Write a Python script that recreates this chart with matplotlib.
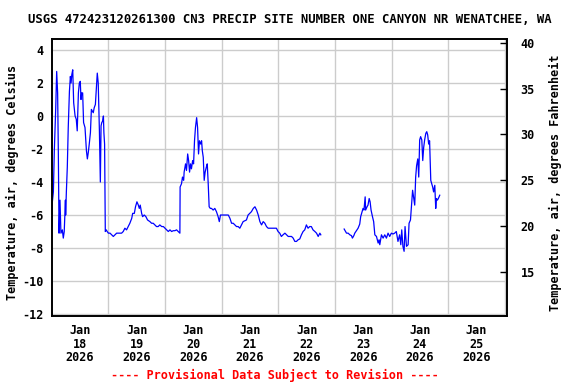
import numpy as np
import matplotlib
matplotlib.use("Agg")
import matplotlib.pyplot as plt

# hours since Jan 18 2026 00:00, air temperature in deg C
hours = [0.0, 0.2, 0.7, 1.1, 1.7, 2.1, 2.5, 2.8, 3.1, 3.5, 3.9, 4.5, 4.9, 5.3, 5.8, 5.9,
         6.2, 6.6, 7.0, 7.5, 7.9, 8.2, 8.5, 8.9, 9.3, 9.9, 10.4, 10.8, 11.3, 11.7, 12.1,
         12.4, 12.7, 13.1, 13.5, 14.1, 14.7, 15.1, 15.5, 15.9, 16.4, 16.8, 17.2, 17.6,
         18.0, 18.5, 18.9, 19.3, 19.7, 20.2, 20.4, 20.6, 20.9, 21.2, 21.6, 21.9, 22.1,
         22.4, 22.7, 23.1, 23.5, 24.0, 24.7, 25.4, 26.1, 26.8, 27.5, 28.2, 29.6, 30.3,
         31.0, 31.7, 32.4, 33.1, 33.9, 34.3, 35.0, 35.5, 36.1, 36.7, 37.1, 37.5, 38.1,
         38.5, 39.2, 39.9, 40.6, 41.6, 42.3, 43.0, 43.7, 44.4, 45.1, 45.8, 46.6, 47.3,
         48.0, 48.7, 49.4, 50.1, 50.8, 51.5, 52.2, 52.9, 53.6, 54.3, 54.4, 55.0, 55.4,
         55.9, 56.1, 56.7, 57.1, 57.6, 58.0, 58.4, 58.8, 59.2, 59.7, 60.1, 60.5, 60.9,
         61.4, 61.8, 62.2, 62.6, 63.1, 63.5, 63.8, 64.2, 64.6, 65.0, 65.5, 65.9, 66.3,
         66.7, 67.2, 67.7, 68.4, 69.1, 69.8, 70.5, 71.0, 71.5, 72.7, 74.1, 74.8, 75.5,
         76.2, 76.9, 77.6, 78.3, 79.0, 79.7, 80.4, 81.1, 82.5, 83.2, 83.9, 84.6, 85.4,
         86.1, 86.8, 87.5, 88.2, 88.9, 89.6, 90.3, 91.0, 91.7, 92.4, 93.8, 95.2, 95.9,
         96.6, 97.3, 98.0, 98.8, 99.5, 100.2, 100.9, 101.6, 102.3, 103.0, 103.7, 104.4,
         105.1, 105.8, 106.5, 107.2, 107.9, 108.6, 109.3, 110.0, 110.7, 111.5, 112.2,
         112.9, 113.6, 114.0, 119.0,
         123.9, 124.9, 125.6, 126.3, 127.0, 127.4, 128.0, 128.4, 129.1, 129.8, 130.5,
         130.9, 131.3, 131.9, 132.3, 132.8, 133.0, 133.6, 134.0, 134.5, 134.9, 135.3,
         135.9, 136.4, 136.9, 137.6, 138.3, 138.7, 139.0, 139.7, 140.4, 141.1, 141.8,
         142.5, 143.2, 143.9, 144.6, 145.3, 146.0, 146.7, 147.4, 147.9, 148.3, 148.8,
         149.3, 149.7, 150.3, 151.0, 151.4, 152.0, 152.5, 152.9, 153.4, 153.8, 154.2,
         154.6, 155.1, 155.5, 155.9, 156.3, 156.8, 157.2, 157.6, 158.0, 158.5, 158.9,
         159.3, 159.7, 160.1, 160.6, 161.0, 161.4, 161.8, 162.3, 162.7, 163.0, 163.4,
         163.8, 164.4]
temp_c = [-6.7, -5.3, -4.6, -2.1, 0.5, 2.7, 1.4, -2.2, -7.1, -5.1, -7.1, -6.9, -7.4, -7.0, -5.1, -6.0,
          -4.6, -3.1, -0.7, 1.5, 2.4, 2.0, 2.5, 2.8, 0.8, 0.0, -0.2, -0.9, 1.4, 2.0, 2.1,
          1.0, 1.4, 1.4, -0.4, -0.7, -2.1, -2.6, -2.2, -1.7, -1.0, 0.4, 0.3, 0.2,
          0.5, 0.7, 1.6, 2.6, 2.0, -0.9, -2.5, -4.0, -0.6, -0.4, -0.3, 0.0, -1.0,
          -1.7, -7.0, -6.9, -7.0, -7.1, -7.1, -7.2, -7.3, -7.2, -7.1, -7.1, -7.1, -7.0,
          -6.8, -6.9, -6.7, -6.5, -6.2, -5.9, -5.9, -5.5, -5.2, -5.4, -5.6, -5.4, -5.9,
          -6.1, -6.0, -6.1, -6.3, -6.4, -6.5, -6.5, -6.6, -6.7, -6.7, -6.6, -6.7, -6.7,
          -6.8, -6.9, -7.0, -6.9, -7.0, -6.95, -6.95, -6.9, -7.0, -7.1, -4.3, -4.1, -3.7,
          -3.9, -3.4, -2.9, -3.3, -2.3, -2.7, -3.4, -2.9, -3.2, -2.7, -2.9, -1.5, -0.7,
          -0.1, -0.7, -2.3, -1.5, -1.7, -1.5, -2.1, -2.5, -3.9, -3.4, -3.1, -2.9, -4.1,
          -5.5, -5.6, -5.6, -5.7, -5.6, -5.8, -6.1, -6.4, -6.0, -6.0, -6.0, -6.0, -6.2,
          -6.5, -6.5, -6.6, -6.7, -6.7, -6.8, -6.6, -6.4, -6.3, -6.0, -5.9, -5.8, -5.6,
          -5.5, -5.7, -6.0, -6.4, -6.6, -6.4, -6.5, -6.7, -6.8, -6.8, -6.8, -6.8, -7.0,
          -7.1, -7.3, -7.2, -7.1, -7.2, -7.3, -7.3, -7.3, -7.4, -7.6, -7.6, -7.5,
          -7.45, -7.2, -7.0, -6.9, -6.6, -6.8, -6.7, -6.7, -6.9, -7.0, -7.1,
          -7.3, -7.1, -7.2, np.nan,
          -6.85, -7.1, -7.1, -7.2, -7.25, -7.4, -7.25, -7.1, -6.95, -6.8, -6.55,
          -6.1, -5.9, -5.6, -5.7, -4.9, -5.7, -5.5, -5.4, -5.0, -5.2, -5.7,
          -6.1, -6.4, -7.2, -7.3, -7.7, -7.5, -7.8, -7.2, -7.4, -7.2, -7.4,
          -7.1, -7.3, -7.1, -7.15, -7.1, -7.0, -7.6, -7.2, -7.8, -6.9, -7.9,
          -8.2, -6.7, -7.9, -7.8, -6.5, -6.3, -5.3, -4.5, -5.0, -5.4, -3.7,
          -3.0, -2.6, -3.7, -1.45, -1.25, -1.45, -2.7, -1.9, -1.45, -1.05, -0.95,
          -1.15, -1.7, -1.5, -3.9, -4.1, -4.3, -4.6, -4.2, -5.6, -5.0, -5.1,
          -5.0, -4.8]

day_labels = ["Jan\n18\n2026", "Jan\n19\n2026", "Jan\n20\n2026", "Jan\n21\n2026",
              "Jan\n22\n2026", "Jan\n23\n2026", "Jan\n24\n2026", "Jan\n25\n2026"]
c_ticks = [-12, -10, -8, -6, -4, -2, 0, 2, 4]
f_ticks = [15, 20, 25, 30, 35, 40]

title = "USGS 472423120261300 CN3 PRECIP SITE NUMBER ONE CANYON NR WENATCHEE, WA"
mono = "DejaVu Sans Mono"
fs = 8.5

fig = plt.figure(figsize=(5.76, 3.84), dpi=100)
ax = fig.add_axes([0.0898, 0.1771, 0.7896, 0.7206])

ax.plot(hours, temp_c, color="#0000FF", lw=0.9)

c_lo, c_hi = -12.12, 4.65
ax.set_xlim(0, 192.7)
ax.set_ylim(c_lo, c_hi)

# labels at noon, grid lines at midnight
ax.set_xticks([12 + 24 * i for i in range(len(day_labels))])
ax.set_xticklabels(day_labels, fontfamily=mono, fontweight="bold", fontsize=fs,
                   linespacing=1.05)
ax.set_xticks([24 * i for i in range(1, 9)], minor=True)
ax.tick_params(axis="x", which="both", length=0, pad=6)
ax.grid(True, which="minor", axis="x", color="#cccccc", lw=1)

ax.set_yticks(c_ticks)
ax.set_yticklabels([str(v) for v in c_ticks], fontfamily=mono, fontweight="bold", fontsize=fs)
ax.tick_params(axis="y", length=0, pad=6)
ax.grid(True, which="major", axis="y", color="#cccccc", lw=1)

for s in ax.spines.values():
    s.set_linewidth(1.2)

ax2 = ax.twinx()
ax2.set_ylim(c_lo * 1.8 + 32, c_hi * 1.8 + 32)
ax2.set_yticks(f_ticks)
ax2.set_yticklabels([str(v) for v in f_ticks], fontfamily=mono, fontweight="bold", fontsize=fs)
ax2.tick_params(axis="y", direction="in", length=5, width=1, pad=10)
for s in ax2.spines.values():
    s.set_linewidth(1.2)

fig.text(0.503, 0.95, title, ha="center", va="center", fontfamily=mono,
         fontweight="bold", fontsize=8.85)
fig.text(0.021, 0.525, "Temperature, air, degrees Celsius", rotation=90, ha="center",
         va="center", fontfamily=mono, fontweight="bold", fontsize=fs)
fig.text(0.964, 0.525, "Temperature, air, degrees Fahrenheit", rotation=90, ha="center",
         va="center", fontfamily=mono, fontweight="bold", fontsize=fs)
fig.text(0.478, 0.021, "---- Provisional Data Subject to Revision ----", ha="center",
         va="center", color="#FF0000", fontfamily=mono, fontweight="bold", fontsize=fs)

fig.savefig("out.png", dpi=100)
